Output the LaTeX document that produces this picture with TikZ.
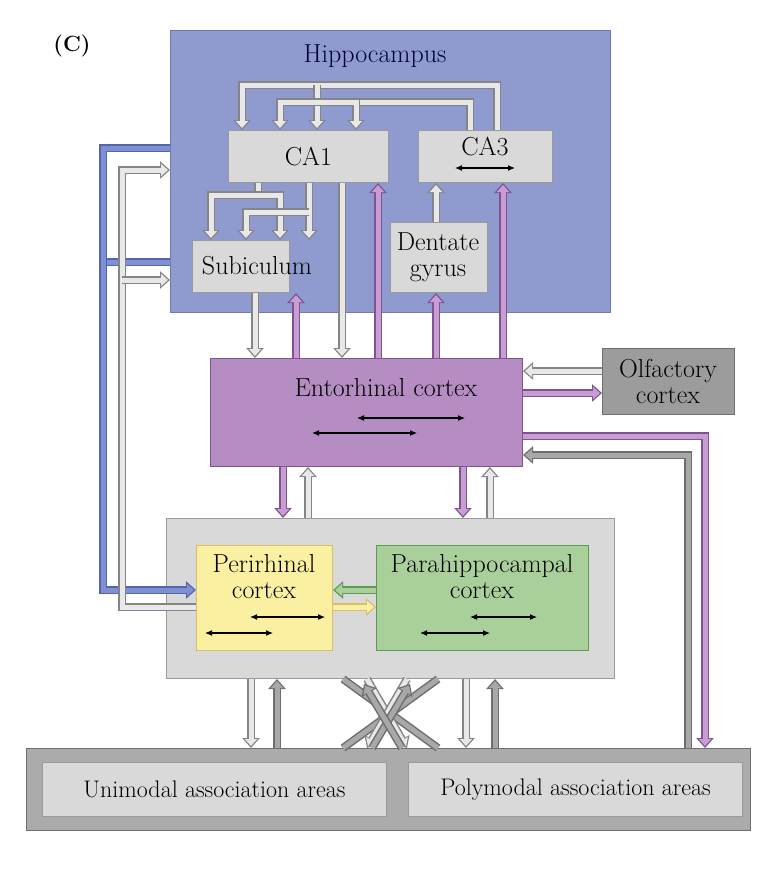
\documentclass[tikz,border=0pt]{standalone}
\usetikzlibrary{arrows.meta}
\definecolor{hipfill}{HTML}{8F9BCF}\definecolor{hipdraw}{HTML}{6F7BB5}
\definecolor{ecfill}{HTML}{B68DC3}\definecolor{ecdraw}{HTML}{7E5390}
\definecolor{boxfill}{HTML}{D9D9D9}\definecolor{boxdraw}{HTML}{9A9A9A}
\definecolor{lite}{HTML}{E8E8E8}\definecolor{litedraw}{HTML}{858585}
\definecolor{dark}{HTML}{A8A8A8}\definecolor{darkdraw}{HTML}{6E6E6E}
\definecolor{purp}{HTML}{C79DD3}\definecolor{blu}{HTML}{7F8FD3}\definecolor{bludraw}{HTML}{5565AA}
\definecolor{yel}{HTML}{FBF0A2}\definecolor{yeldraw}{HTML}{D8C060}
\definecolor{grn}{HTML}{A9D09A}\definecolor{grndraw}{HTML}{5E9A50}
\definecolor{olf}{HTML}{9C9C9C}\definecolor{bar}{HTML}{ABABAB}
\tikzset{
 x=1pt,y=-1pt,
 txt/.style={font=\fontsize{26}{26}\selectfont},
 box/.style={draw=#1,line width=1pt,anchor=north west,inner sep=0pt,align=center,txt},
 fat/.style 2 args={preaction={draw=#2,line width=8pt,shorten >=0pt,-{Triangle[width=17pt,length=10pt]}},
   draw=#1,line width=5pt,shorten >=2pt,-{Triangle[width=12pt,length=7pt]}},
 fatn/.style 2 args={preaction={draw=#2,line width=8pt}, draw=#1,line width=5pt},
 dbl/.style={{Latex[length=7pt,width=6pt]}-{Latex[length=7pt,width=6pt]},line width=1.1pt,black},
}
\begin{document}
\begin{tikzpicture}
\useasboundingbox (0,0) rectangle (776,894);
\node[font=\bfseries\fontsize{22}{24}\selectfont] (lab) at (72,46) {(C)};
% boxes
\node[box=hipdraw,fill=hipfill,minimum width=440pt,minimum height=282pt] (hip) at (170,30) {};
\node[txt,text=black!80!blue] (hiptitle) at (375,56) {Hippocampus};
\node[box=boxdraw,fill=boxfill,minimum width=160pt,minimum height=52pt] (ca1) at (228,130) {CA1};
\node[box=boxdraw,fill=boxfill,minimum width=134pt,minimum height=52pt] (ca3) at (418,130) {};
\node[txt] (ca3t) at (485,147) {CA3};
\node[box=boxdraw,fill=boxfill,minimum width=97pt,minimum height=52pt] (sub) at (192,240) {};
\node[txt] (subt) at (257,266) {Subiculum};
\node[box=boxdraw,fill=boxfill,minimum width=97pt,minimum height=70pt] (dg) at (390,222) {};
\node[txt,align=center] (dgt) at (438,257) {Dentate\\gyrus};
\node[box=ecdraw,fill=ecfill,minimum width=312pt,minimum height=108pt] (ec) at (210,358) {};
\node[txt] (ect) at (386,388) {Entorhinal cortex};
\node[box=darkdraw,fill=olf,minimum width=132pt,minimum height=66pt] (olf) at (602,348) {};
\node[txt,align=center] (olft) at (668,381) {Olfactory\\cortex};
\node[box=boxdraw,fill=boxfill,minimum width=448pt,minimum height=160pt] (big) at (166,518) {};
\node[box=yeldraw,fill=yel,minimum width=136pt,minimum height=105pt] (per) at (196,545) {};
\node[txt,align=center] (pert) at (264,577) {Perirhinal\\cortex};
\node[box=grndraw,fill=grn,minimum width=212pt,minimum height=105pt] (par) at (376,545) {};
\node[txt,align=center] (part) at (482,577) {Parahippocampal\\cortex};
% internal black arrows
\draw[dbl] (455,168) -- (515,168);
\draw[dbl] (357,418) -- (465,418);
\draw[dbl] (312,433) -- (417,433);
\draw[dbl] (250,617) -- (325,617);
\draw[dbl] (205,633) -- (273,633);
\draw[dbl] (470,617) -- (537,617);
\draw[dbl] (420,633) -- (490,633);
% hippocampus internal loops
\draw[fatn={lite}{litedraw}] (497,0 |- ca3.north) -- (497,85) -- (317,85);
\draw[fat={lite}{litedraw}] (317,85) -- (242,85) -- (242,0 |- ca1.north);
\draw[fat={lite}{litedraw}] (317,85) -- (317,0 |- ca1.north);
\draw[fatn={lite}{litedraw}] (470,0 |- ca3.north) -- (470,102) -- (317,102);
\draw[fat={lite}{litedraw}] (317,102) -- (280,102) -- (280,0 |- ca1.north);
\draw[fat={lite}{litedraw}] (317,102) -- (356,102) -- (356,0 |- ca1.north);
\draw[fatn={lite}{litedraw}] (258,0 |- ca1.south) -- (258,195);
\draw[fat={lite}{litedraw}] (258,195) -- (211,195) -- (211,0 |- sub.north);
\draw[fat={lite}{litedraw}] (258,195) -- (280,195) -- (280,0 |- sub.north);
\draw[fat={lite}{litedraw}] (309,0 |- ca1.south) -- (309,0 |- sub.north);
\draw[fat={lite}{litedraw}] (309,212) -- (246,212) -- (246,0 |- sub.north);
% hippocampus <-> EC
\draw[fat={lite}{litedraw}] (255,0 |- sub.south) -- (255,0 |- ec.north);
\draw[fat={purp}{ecdraw}] (296,0 |- ec.north) -- (296,0 |- sub.south);
\draw[fat={lite}{litedraw}] (342,0 |- ca1.south) -- (342,0 |- ec.north);
\draw[fat={purp}{ecdraw}] (378,0 |- ec.north) -- (378,0 |- ca1.south);
\draw[fat={purp}{ecdraw}] (436,0 |- ec.north) -- (436,0 |- dg.south);
\draw[fat={lite}{litedraw}] (436,0 |- dg.north) -- (436,0 |- ca3.south);
\draw[fat={purp}{ecdraw}] (503,0 |- ec.north) -- (503,0 |- ca3.south);
% left side
\draw[fatn={blu}{bludraw}] (hip.west |- 0,262) -- (103,262);
\draw[fat={blu}{bludraw}] (hip.west |- 0,148) -- (103,148) -- (103,590) -- (per.west |- 0,590);
\draw[fat={lite}{litedraw}] (per.west |- 0,607) -- (122,607) -- (122,170) -- (hip.west |- 0,170);
\draw[fat={lite}{litedraw}] (122,280) -- (hip.west |- 0,280);
% olfactory
\draw[fat={lite}{litedraw}] (olf.west |- 0,371) -- (ec.east |- 0,371);
\draw[fat={purp}{ecdraw}] (ec.east |- 0,393) -- (olf.west |- 0,393);
% bottom bar
\node[box=darkdraw,fill=bar,minimum width=724pt,minimum height=82pt] (barb) at (26,748) {};
\node[box=boxdraw,fill=boxfill,minimum width=344pt,minimum height=54pt,font=\fontsize{24}{26}\selectfont] (uni) at (42,762) {Unimodal association areas};
\node[box=boxdraw,fill=boxfill,minimum width=334pt,minimum height=54pt,font=\fontsize{24}{26}\selectfont] (poly) at (408,762) {Polymodal association areas};
% EC <-> polymodal
\draw[fat={purp}{ecdraw}] (ec.east |- 0,436) -- (705,436) -- (705,0 |- barb.north);
\draw[fat={dark}{darkdraw}] (688,0 |- barb.north) -- (688,455) -- (ec.east |- 0,455);
% EC <-> big box
\draw[fat={purp}{ecdraw}] (283,0 |- ec.south) -- (283,0 |- big.north);
\draw[fat={lite}{litedraw}] (308,0 |- big.north) -- (308,0 |- ec.south);
\draw[fat={purp}{ecdraw}] (463,0 |- ec.south) -- (463,0 |- big.north);
\draw[fat={lite}{litedraw}] (490,0 |- big.north) -- (490,0 |- ec.south);
% peri <-> para
\draw[fat={grn}{grndraw}] (par.west |- 0,590) -- (per.east |- 0,590);
\draw[fat={yel}{yeldraw}] (per.east |- 0,607) -- (par.west |- 0,607);
% big box <-> bar
\draw[fat={lite}{litedraw}] (251,0 |- big.south) -- (251,0 |- barb.north);
\draw[fat={dark}{darkdraw}] (277,0 |- barb.north) -- (277,0 |- big.south);
\draw[fat={lite}{litedraw}] (466,0 |- big.south) -- (466,0 |- barb.north);
\draw[fat={dark}{darkdraw}] (495,0 |- barb.north) -- (495,0 |- big.south);
\draw[fatn={dark}{darkdraw}] (343,0 |- big.south) -- (438,0 |- barb.north);
\draw[fatn={dark}{darkdraw}] (438,0 |- big.south) -- (343,0 |- barb.north);
\draw[fat={lite}{litedraw}] (367,0 |- big.south) -- (407,0 |- barb.north);
\draw[fat={lite}{litedraw}] (407,0 |- big.south) -- (367,0 |- barb.north);
\draw[fat={dark}{darkdraw}] (372,0 |- barb.north) -- (410,684);
\draw[fat={dark}{darkdraw}] (402,0 |- barb.north) -- (364,684);
\end{tikzpicture}
\end{document}
